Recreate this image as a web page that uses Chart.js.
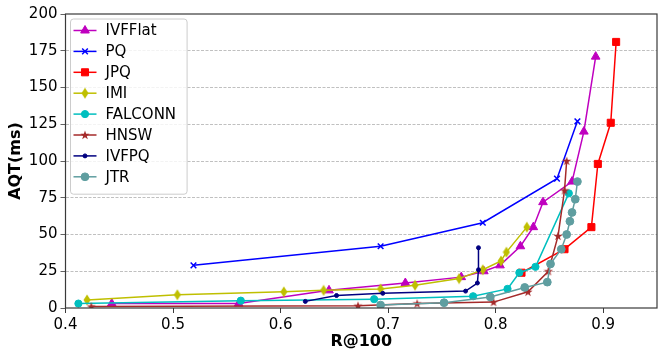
<!DOCTYPE html>
<html>
<head>
<meta charset="utf-8">
<script src="https://cdn.jsdelivr.net/npm/chart.js"></script>
<style>
  body { margin: 0; background: #fff; }
  #wrap { width: 664px; height: 358px; }
</style>
</head>
<body>
<div id="wrap"><canvas id="chart" width="664" height="358"></canvas></div>
<script>
// axis ticks
const recallTicks = [0.4, 0.5, 0.6, 0.7, 0.8, 0.9]
const aqtTicks = [0, 25, 50, 75, 100, 125, 150, 175, 200]

// series (R@100 vs AQT in ms)
const ivfflatRecall = [0.443, 0.561, 0.645, 0.716, 0.768, 0.789, 0.804, 0.823, 0.835, 0.844, 0.871, 0.882, 0.893]
const ivfflatAqt    = [3, 3, 12, 17, 21, 25, 29, 42, 55, 72, 86, 120, 171]
const pqRecall = [0.519, 0.693, 0.788, 0.857, 0.876]
const pqAqt    = [29, 42, 58, 88, 127]
const jpqRecall = [0.824, 0.864, 0.889, 0.895, 0.907, 0.912]
const jpqAqt    = [24, 40, 55, 98, 126, 181]
const imiRecall = [0.420, 0.504, 0.603, 0.640, 0.693, 0.725, 0.766, 0.788, 0.805, 0.810, 0.829]
const imiAqt    = [5.5, 9, 11, 12, 13, 15.5, 20, 26, 32, 38, 55]
const falconnRecall = [0.412, 0.563, 0.687, 0.779, 0.811, 0.822, 0.837, 0.868]
const falconnAqt    = [3, 5, 6, 8, 13, 24, 28, 78]
const hnswRecall = [0.424, 0.672, 0.727, 0.798, 0.830, 0.849, 0.858, 0.864, 0.866]
const hnswAqt    = [1, 1.5, 3, 4, 11, 25, 49, 80, 100]
const ivfpqRecall = [0.623, 0.652, 0.695, 0.772, 0.783, 0.784, 0.784]
const ivfpqAqt    = [4.5, 8.5, 10, 11.5, 17, 26, 41]
const jtrRecall = [0.693, 0.752, 0.795, 0.827, 0.848, 0.851, 0.861, 0.866, 0.869, 0.871, 0.874, 0.876]
const jtrAqt    = [2, 3.6, 7.5, 14, 17.6, 30, 40, 50, 59, 65, 74, 86]

// custom markers: thin diamond and filled star
function thinDiamond(color){
    const c = document.createElement('canvas')
    c.width = 8; c.height = 12
    const g = c.getContext('2d')
    g.fillStyle = color
    g.beginPath()
    g.moveTo(4, 0.5); g.lineTo(7.5, 6); g.lineTo(4, 11.5); g.lineTo(0.5, 6)
    g.closePath(); g.fill()
    return c
}
function filledStar(color){
    const c = document.createElement('canvas')
    c.width = 10; c.height = 10
    const g = c.getContext('2d')
    g.fillStyle = color
    g.beginPath()
    for (let i = 0; i < 10; i++){
        const r = i % 2 ? 1.9 : 4.8
        const a = -Math.PI/2 + i*Math.PI/5
        const px = 5 + r*Math.cos(a), py = 5.3 + r*Math.sin(a)
        i ? g.lineTo(px, py) : g.moveTo(px, py)
    }
    g.closePath(); g.fill()
    return c
}

function series(label, xs, ys, color, style, radius){
    return {
        label: label,
        data: xs.map((x, i) => ({x: x, y: ys[i]})),
        borderColor: color,
        backgroundColor: color,
        pointBackgroundColor: color,
        pointBorderColor: color,
        pointBorderWidth: style === 'crossRot' ? 1.5 : 1,
        pointStyle: style,
        pointRadius: radius,
        borderWidth: 1.5,
        tension: 0,
        fill: false
    }
}

const datasets = [
    series('IVFFlat', ivfflatRecall, ivfflatAqt, '#bf00bf', 'triangle', 5),
    series('PQ', pqRecall, pqAqt, '#0000ff', 'crossRot', 4),
    series('JPQ', jpqRecall, jpqAqt, '#ff0000', 'rect', 5),
    series('IMI', imiRecall, imiAqt, '#bfbf00', thinDiamond('#bfbf00'), 5),
    series('FALCONN', falconnRecall, falconnAqt, '#00bfbf', 'circle', 3.6),
    series('HNSW', hnswRecall, hnswAqt, '#a52a2a', filledStar('#a52a2a'), 5),
    series('IVFPQ', ivfpqRecall, ivfpqAqt, '#000080', 'circle', 2),
    series('JTR', jtrRecall, jtrAqt, '#5f9ea0', 'circle', 3.9)
]
// later series on top, like matplotlib
datasets.forEach((d, i) => d.order = datasets.length - i)

// frame around the plot + legend inside upper left
const framePlugin = {
    id: 'frame',
    afterDraw(chart){
        const ctx = chart.ctx, a = chart.chartArea
        ctx.save()
        ctx.strokeStyle = '#3a3a3a'
        ctx.lineWidth = 1.2
        ctx.strokeRect(a.left, a.top, a.right - a.left, a.bottom - a.top)

        // legend
        const fs = 15, rowH = 20.9
        ctx.font = fs + 'px "DejaVu Sans"'
        let tw = 0
        datasets.forEach(d => tw = Math.max(tw, ctx.measureText(d.label).width))
        const lx = a.left + 5, ly = a.top + 5
        const w = 8 + 23 + 9 + tw + 6, h = 10 + rowH*datasets.length - 2
        ctx.beginPath()
        ctx.roundRect(lx, ly, w, h, 3)
        ctx.fillStyle = 'rgba(255,255,255,0.8)'
        ctx.fill()
        ctx.strokeStyle = '#cccccc'
        ctx.lineWidth = 1
        ctx.stroke()
        datasets.forEach((d, i) => {
            const cy = ly + 11.5 + i*rowH
            ctx.strokeStyle = d.borderColor
            ctx.lineWidth = 1.5
            ctx.beginPath()
            ctx.moveTo(lx + 3, cy); ctx.lineTo(lx + 26, cy)
            ctx.stroke()
            ctx.fillStyle = d.backgroundColor
            ctx.lineWidth = d.pointBorderWidth
            Chart.helpers.drawPoint(ctx, {pointStyle: d.pointStyle, radius: d.pointRadius, rotation: 0, borderWidth: d.pointBorderWidth}, lx + 14.5, cy)
            ctx.fillStyle = '#000'
            ctx.textBaseline = 'middle'
            ctx.textAlign = 'left'
            ctx.fillText(d.label, lx + 35, cy + 1)
        })
        ctx.restore()
    }
}

const tickFont = {family: '"DejaVu Sans"', size: 15}
const titleFont = {family: '"DejaVu Sans"', size: 16, weight: 'bold'}

const chart = new Chart(document.getElementById('chart').getContext('2d'), {
    type: 'line',
    data: {datasets: datasets},
    options: {
        responsive: false,
        animation: false,
        layout: {padding: {top: 14, right: 7, left: 0, bottom: 0}},
        plugins: {legend: {display: false}, tooltip: {enabled: false}},
        scales: {
            x: {
                type: 'linear',
                min: 0.4, max: 0.95,
                afterBuildTicks: s => { s.ticks = recallTicks.map(v => ({value: v})) },
                afterFit: s => { s.height = 50 },
                ticks: {font: tickFont, color: '#000', padding: 3, maxRotation: 0,
                        callback: v => v.toFixed(1)},
                grid: {drawOnChartArea: false, drawTicks: true, tickLength: 5, tickColor: '#3a3a3a'},
                border: {display: false},
                title: {display: true, text: 'R@100', font: titleFont, color: '#000', padding: {top: 7, bottom: 7}}
            },
            y: {
                type: 'linear',
                min: 0, max: 200,
                afterBuildTicks: s => { s.ticks = aqtTicks.map(v => ({value: v})) },
                afterFit: s => { s.width = 65.5 },
                ticks: {font: tickFont, color: '#000', padding: 3},
                grid: {
                    drawTicks: true, tickLength: 5, tickColor: '#3a3a3a',
                    color: c => (c.tick && (c.tick.value === 0 || c.tick.value === 200)) ? 'rgba(0,0,0,0)' : 'rgba(150,150,150,0.75)',
                    lineWidth: 0.8
                },
                border: {display: false, dash: [3, 1.5]},
                title: {display: true, text: 'AQT(ms)', font: titleFont, color: '#000', padding: {top: 6, bottom: 6}}
            }
        }
    },
    plugins: [framePlugin]
})
</script>
</body>
</html>
